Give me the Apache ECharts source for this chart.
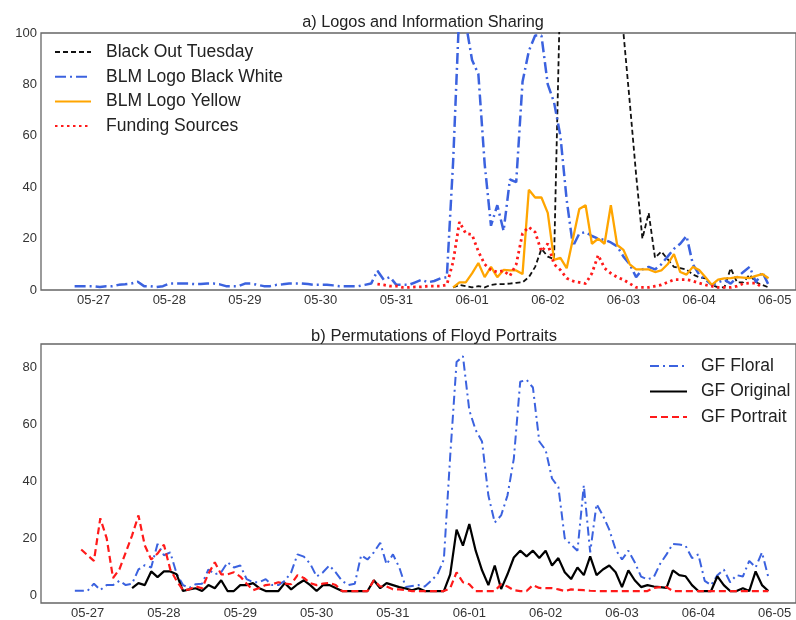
<!DOCTYPE html>
<html>
<head>
<meta charset="utf-8">
<title>Logos and Floyd Portraits</title>
<script src="https://cdn.jsdelivr.net/npm/echarts@6/dist/echarts.min.js"></script>
<style>
  html, body { margin: 0; padding: 0; background: #fff; }
  #chart { width: 796px; height: 620px; }
</style>
</head>
<body>
<div id="chart"></div>
<script>
// x 轴: 以 05-27 00:00 起算的小时数, 每 2 小时一个点
let tickLabels = ['05-27', '05-28', '05-29', '05-30', '05-31', '06-01', '06-02', '06-03', '06-04', '06-05'];
let tickHours = tickLabels.map((d, i) => i * 24);
let stepHours = 2;

// a) Logos and Information Sharing
let blackOutStart = 114;
let blackOutTuesday = [
  1, 2, 1.5,
  1, 1.5, 1, 2, 2.3, 2.3, 2.5, 2.8, 3, 5, 9, 16,
  13, 12, 120, 250, 300, 320, 310, 280, 240, 200, 160, 130,
  100, 73, 45, 20, 30, 12.5, 15, 12, 9, 8.5, 8, 6,
  5, 4.5, 2, 1, 1, 8.5, 3, 3, 6, 3, 2, 1
];
let blmBlackWhiteStart = -6;
let blmBlackWhite = [
  1.5, 1.5, 1.5,
  1.5, 1.2, 1.5, 1.5, 2, 2.2, 2.5, 3.2, 1.5, 1.5, 1.2, 1.5,
  2.5, 2.5, 2.5, 2.5, 2.3, 2.3, 2.5, 2.5, 2.2, 1.5, 1.5, 1.5,
  2.5, 2.5, 2, 1.5, 1.5, 2, 2.2, 2.5, 2.5, 2.5, 2.3, 2,
  2, 2, 1.8, 1.5, 1.5, 1.5, 1.5, 2, 2.5, 7.5, 4, 5,
  2, 2, 2, 3, 4, 3, 3.5, 4.5, 5, 50, 110, 104,
  89.5, 84, 49, 25, 33, 23, 43, 42, 81, 93, 99, 99,
  80, 73, 60, 35, 17, 22, 22.5, 21, 20, 19.5, 18.5, 17,
  13, 10, 5, 8, 9, 8, 10, 13, 16, 18, 21, 10,
  6, 4, 2, 3, 4, 2.5, 5, 7, 9, 3, 7, 2
];
let blmYellowStart = 114;
let blmYellow = [
  1, 3, 3,
  6.5, 10.5, 5, 9, 5, 7.8, 7.6, 7.6, 6.2, 39, 36, 36,
  30, 11.7, 12.5, 8.5, 20, 31.5, 33, 18, 20, 18, 33, 17.5,
  15.6, 10, 8, 8, 8, 7, 7.6, 10, 14, 7, 6, 9,
  7.8, 5, 2, 4, 4.5, 4.6, 5, 4.8, 4.6, 5.5, 6.2, 4.6
];
let fundingStart = 90;
let fundingSources = [
  2.3, 2, 1.5,
  1.5, 1, 1, 1.2, 1.2, 1.5, 1.5, 1.5, 2, 11, 26.5, 22,
  21.5, 15, 10, 7.8, 7, 7.5, 5.5, 10, 22, 24.5, 22.5, 15,
  18, 10, 7.8, 4.6, 3.5, 3, 2.5, 6.5, 13.6, 8.5, 6.5, 5,
  4, 2.5, 1, 1, 1, 1.5, 2, 3, 4, 4, 4, 3.5,
  2.7, 2, 1.5, 1, 1, 1, 1.5, 2.5, 2.7, 2.7, 1
];

// b) Permutations of Floyd Portraits
let gfFloralStart = -4;
let gfFloral = [
  1.5, 1.5,
  1.5, 4, 1.8, 3.5, 3.5, 5, 3.5, 4, 9, 10.5, 9.7, 18,
  14, 15, 7.5, 3.5, 2.5, 3.8, 4, 9, 7.3, 8, 11.5, 9.7,
  10.4, 5.6, 4.5, 4.5, 5.6, 3.5, 3.5, 5, 8, 14.3, 13.5, 11,
  6.5, 8, 10.4, 8, 5, 3.5, 4, 14, 12.5, 15, 18.4, 10.8,
  14.3, 9.7, 2.8, 3.2, 3.5, 3, 5, 7.3, 12.5, 49, 82, 84,
  65, 58, 54, 35, 25.5, 28, 35, 48, 75, 75.7, 73, 54,
  51, 41, 38, 20, 17.7, 15.6, 38.6, 15, 32, 28, 23, 16,
  12.5, 15.6, 11.5, 6.5, 5.5, 6.3, 11, 14.3, 18, 17.8, 17.3, 13,
  14.3, 5, 3.5, 7, 9, 4.5, 7, 6.5, 12, 9.7, 15, 6.3
];
let gfOriginalStart = 14;
let gfOriginal = [
  2.4, 4.2, 3.5, 8.3, 6.3,
  8.3, 8.3, 7.3, 1.4, 2, 2.4, 1.4, 3.5, 2.4, 5.2, 1.4, 1.4,
  3.5, 3.5, 4.2, 2.4, 1.4, 1.4, 1.4, 4.2, 2, 3.8, 5.2, 3.5,
  1.4, 3.5, 3.5, 2.5, 1.4, 1.4, 1.4, 1.4, 1.4, 5.2, 2.4, 4.2,
  3.5, 2.8, 2.3, 1.7, 2.4, 1.4, 1.4, 1.4, 1.4, 7.3, 23, 17.4,
  25, 15.6, 8.7, 3.5, 10.4, 2.1, 7.3, 13.2, 15.6, 13.6, 15.6, 13,
  15.6, 10.4, 13, 8, 5.6, 9.7, 7, 13.6, 7, 9, 10.4, 8,
  2.8, 8.7, 5.2, 2.8, 3.5, 3, 2.8, 2.5, 8.7, 7, 6.6, 3.5,
  1.4, 1.4, 1.4, 6.6, 3.5, 1.4, 1.4, 2.4, 1.4, 8.3, 3.5, 1.4
];
let gfPortraitStart = -2;
let gfPortrait = [
  16,
  14, 12, 27, 20, 6, 9, 15, 21, 28, 17.4, 12.5, 14.6,
  17.7, 9, 5, 1.7, 2, 3, 2.4, 7.5, 11.5, 7.3, 7.3, 8,
  6.5, 4, 1.7, 2.5, 3.5, 3.8, 4.5, 4, 3.8, 7, 6, 4.2,
  3.5, 4, 4.3, 3.5, 1.4, 1.4, 1.4, 1.4, 1.4, 5.2, 3, 3,
  2, 2, 1.7, 1.4, 1.4, 1.4, 1.4, 1.4, 1.4, 2.4, 8, 4.5,
  3.8, 1.4, 1.4, 1.4, 1.4, 3.8, 3, 1.7, 1.4, 1.4, 3.5, 2.5,
  2.4, 2.4, 2, 1.4, 2, 1.8, 1.7, 1.5, 1.4, 1.4, 1.4, 1.4,
  1.4, 1.4, 1.4, 1.4, 1.4, 2.5, 2.8, 2.8, 1.4, 1.4, 1.4, 1.4,
  1.4, 1.4, 1.4, 1.4, 1.4, 1.4, 1.4, 1.4, 1.4, 1.4, 1.4, 1.4
];

let fontFamily = '"Liberation Sans", Arial, sans-serif';
let blue = '#3b62df';
let red = '#ff1a1a';

function toPoints(start, values) {
  return values.map((v, i) => [start + i * stepHours, v]);
}

function lineSeries(name, idx, start, values, color, width, type) {
  return {
    name: name,
    type: 'line',
    xAxisIndex: idx,
    yAxisIndex: idx,
    data: toPoints(start, values),
    symbol: 'none',
    clip: true,
    lineStyle: { color: color, width: width, type: type },
    itemStyle: { color: color }
  };
}

function timeAxis(gridIndex, min) {
  return {
    type: 'value',
    gridIndex: gridIndex,
    min: min,
    max: 222.7,
    axisLine: { show: false },
    axisTick: { show: false },
    splitLine: { show: false },
    axisLabel: {
      customValues: tickHours,
      formatter: (v) => tickLabels[Math.round(v / 24)],
      fontSize: 13,
      color: '#333',
      fontFamily: fontFamily,
      margin: 4
    }
  };
}

let myChart = echarts.init(document.getElementById('chart'));
let option = {
  animation: false,
  backgroundColor: '#fff',
  textStyle: { fontFamily: fontFamily },
  title: [
    {
      text: 'a) Logos and Information Sharing',
      left: 418, top: 10, textAlign: 'center',
      textStyle: { fontSize: 16.3, fontWeight: 'normal', color: '#222', fontFamily: fontFamily }
    },
    {
      text: 'b) Permutations of Floyd Portraits',
      left: 429, top: 323, textAlign: 'center',
      textStyle: { fontSize: 16.5, fontWeight: 'normal', color: '#222', fontFamily: fontFamily }
    }
  ],
  legend: [
    {
      data: ['Black Out Tuesday', 'BLM Logo Black White', 'BLM Logo Yellow', 'Funding Sources'],
      orient: 'vertical', left: 49, top: 38,
      itemWidth: 36, itemHeight: 14, itemGap: 6.7,
      itemStyle: { opacity: 0 },
      textStyle: { fontSize: 17.5, color: '#222', fontFamily: fontFamily, lineHeight: 18, padding: [0, 0, 0, 10] }
    },
    {
      data: ['GF Floral', 'GF Original', 'GF Portrait'],
      orient: 'vertical', left: 644, top: 352,
      itemWidth: 37, itemHeight: 14, itemGap: 7.5,
      itemStyle: { opacity: 0 },
      textStyle: { fontSize: 17.5, color: '#222', fontFamily: fontFamily, lineHeight: 18, padding: [0, 0, 0, 9] }
    }
  ],
  grid: [
    { left: 41, right: -2, top: 33, bottom: 330, show: true, borderColor: '#666', borderWidth: 1.3, backgroundColor: 'transparent' },
    { left: 41, right: -2, top: 344, bottom: 14, show: true, borderColor: '#666', borderWidth: 1.3, backgroundColor: 'transparent' }
  ],
  xAxis: [timeAxis(0, -16.66), timeAxis(1, -14.64)],
  yAxis: [
    {
      type: 'value', gridIndex: 0, min: 0, max: 100, interval: 20,
      axisLine: { show: false }, axisTick: { show: false }, splitLine: { show: false },
      axisLabel: { fontSize: 13, color: '#333', fontFamily: fontFamily, margin: 4 }
    },
    {
      type: 'value', gridIndex: 1, min: -2.8, max: 88.3,
      axisLine: { show: false }, axisTick: { show: false }, splitLine: { show: false },
      axisLabel: { customValues: [0, 20, 40, 60, 80], fontSize: 13, color: '#333', fontFamily: fontFamily, margin: 4 }
    }
  ],
  series: [
    lineSeries('Black Out Tuesday', 0, blackOutStart, blackOutTuesday, '#111', 1.8, [5, 3]),
    lineSeries('BLM Logo Black White', 0, blmBlackWhiteStart, blmBlackWhite, blue, 2.5, [11, 4, 2, 4]),
    lineSeries('BLM Logo Yellow', 0, blmYellowStart, blmYellow, '#ffa500', 2.3, 'solid'),
    lineSeries('Funding Sources', 0, fundingStart, fundingSources, red, 2.8, [2.5, 3.5]),
    lineSeries('GF Floral', 1, gfFloralStart, gfFloral, blue, 2, [9, 4, 2, 4]),
    lineSeries('GF Original', 1, gfOriginalStart, gfOriginal, '#000', 2.2, 'solid'),
    lineSeries('GF Portrait', 1, gfPortraitStart, gfPortrait, red, 2.2, [7, 4])
  ]
};
myChart.setOption(option);
</script>
</body>
</html>
